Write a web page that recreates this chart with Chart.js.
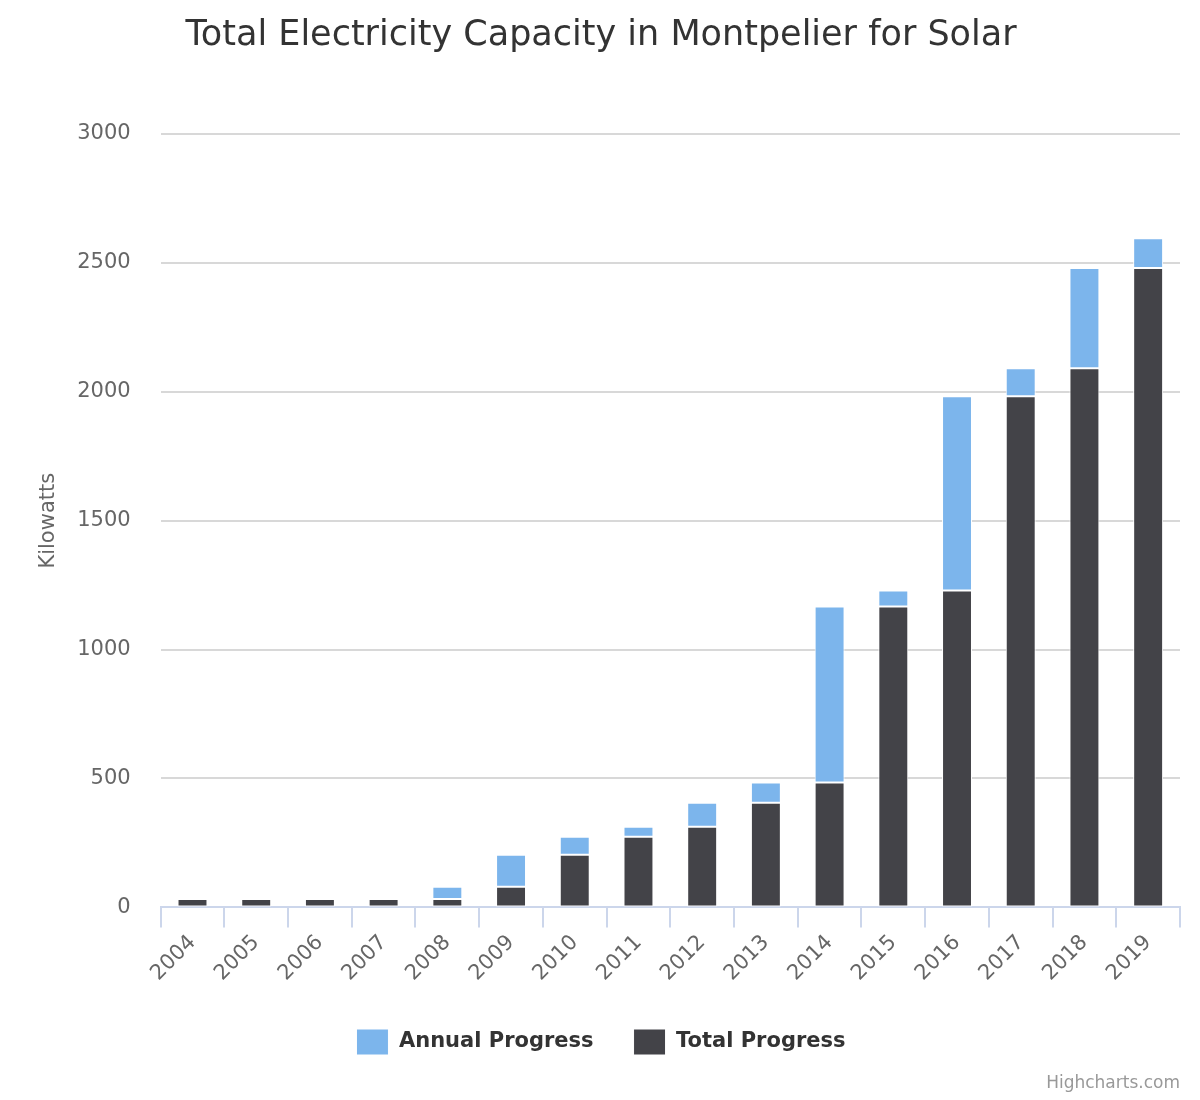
<!DOCTYPE html>
<html>
<head>
<meta charset="utf-8">
<script src="https://cdn.jsdelivr.net/npm/chart.js@4/dist/chart.umd.min.js"></script>
<style>
  html, body { margin: 0; padding: 0; background: #fff; }
  #wrap { position: relative; width: 1200px; height: 1100px; }
  #credit { position: absolute; right: 20px; top: 1072px; font: 17px "DejaVu Sans", sans-serif; color: #999; }
</style>
</head>
<body>
<div id="wrap">
  <canvas id="myChart" width="1200" height="1100"></canvas>
  <div id="credit">Highcharts.com</div>
</div>
<script>
// values (kW)
var years = ["2004", "2005", "2006", "2007", "2008", "2009", "2010", "2011",
             "2012", "2013", "2014", "2015", "2016", "2017", "2018", "2019"];
var totalProgress = [33, 33, 33, 33, 33, 80, 204, 274, 313, 406, 484, 1167, 1229, 1983, 2091, 2480];
var annualProgress = [0, 0, 0, 0, 47, 124, 70, 39, 93, 78, 683, 62, 754, 108, 389, 116];
var yTicks = [0, 500, 1000, 1500, 2000, 2500, 3000];

var ctx = document.getElementById("myChart").getContext("2d");
var data = {
    labels: years,
    datasets: [
        {
            label: "Total Progress",
            backgroundColor: "#434348",
            borderColor: "#ffffff",
            borderWidth: 1,
            borderSkipped: false,
            data: totalProgress
        },
        {
            label: "Annual Progress",
            backgroundColor: "#7cb5ec",
            borderColor: "#ffffff",
            borderWidth: 1,
            borderSkipped: false,
            data: annualProgress
        }
    ]
};

var options = {
    responsive: false,
    animation: false,
    layout: { padding: { left: 22, right: 20, top: 0, bottom: 35 } },
    datasets: { bar: { barPercentage: 0.47, categoryPercentage: 1 } },
    plugins: {
        title: {
            display: true,
            text: "Total Electricity Capacity in Montpelier for Solar",
            color: "#333333",
            font: { family: "DejaVu Sans", size: 35, weight: "normal" },
            padding: { top: 15, bottom: 77 }
        },
        legend: {
            position: "bottom",
            reverse: true,
            labels: {
                color: "#333333",
                boxWidth: 32,
                boxHeight: 26,
                padding: 40,
                font: { family: "DejaVu Sans", size: 21, weight: "bold" }
            }
        },
        tooltip: { enabled: false }
    },
    scales: {
        x: {
            stacked: true,
            border: { color: "#ccd6eb", width: 2 },
            grid: { display: true, drawOnChartArea: false, color: "#ccd6eb", lineWidth: 2, tickLength: 20, offset: true },
            ticks: {
                color: "#666666",
                maxRotation: 45,
                minRotation: 45,
                font: { family: "DejaVu Sans", size: 21 }
            }
        },
        y: {
            stacked: true,
            min: 0,
            max: 3000,
            afterBuildTicks: function (axis) {
                axis.ticks = yTicks.map(function (v) { return { value: v }; });
            },
            border: { display: false },
            grid: { color: "#d8d8d8", lineWidth: 2, drawTicks: false },
            ticks: {
                color: "#666666",
                padding: 30,
                font: { family: "DejaVu Sans", size: 21 },
                callback: function (v) { return String(v); }
            },
            title: {
                display: true,
                text: "Kilowatts",
                color: "#666666",
                padding: { top: 14, bottom: -14 },
                font: { family: "DejaVu Sans", size: 21 }
            }
        }
    }
};

var myChart = new Chart(ctx, {
    type: "bar",
    data: data,
    options: options
});
</script>
</body>
</html>
